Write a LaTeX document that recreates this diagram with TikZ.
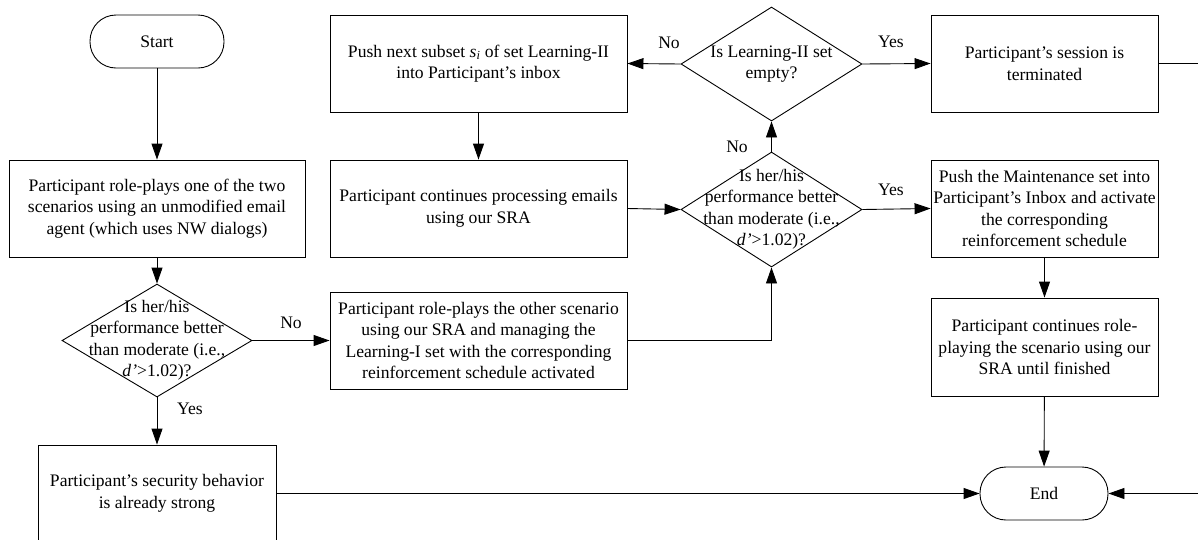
\documentclass[tikz,border=0pt]{standalone}
\usepackage{fontspec}
\setmainfont{Liberation Serif}
\usetikzlibrary{arrows.meta,shapes.geometric}
\begin{document}
\begin{tikzpicture}[x=1pt,y=-1pt,
  every node/.style={font=\fontsize{17.6}{21.5}\selectfont},
  box/.style={draw, line width=0.9pt, minimum height=97pt, align=center, inner sep=0pt},
  term/.style={draw, line width=0.9pt, rounded corners=26pt, minimum height=53pt, inner sep=0pt},
  dia/.style={draw, line width=0.9pt, diamond, inner sep=0pt},
  dtext/.style={align=center, inner sep=0pt},
  lbl/.style={inner sep=0pt},
  conn/.style={line width=0.9pt, -{Triangle[length=16pt,width=11pt]}},
  plain/.style={line width=0.9pt}]
\clip (0,0) rectangle (1198,539);
\fill[white] (0,0) rectangle (1198,539);

% left column
\node[term, minimum width=134pt] (start) at (157,41.5) {Start};
\node[box, minimum width=296pt] (b1) at (157,208.5) {Participant role-plays one of the two\\scenarios using an unmodified email\\agent (which uses NW dialogs)};
\node[dia, minimum width=190pt, minimum height=113pt] (d1) at (157,340.5) {};
\node[dtext] (d1t) at (157,340.5) {Is her/his\\performance better\\than moderate (i.e.,\\\textit{d’}>1.02)?};
\node[box, minimum width=238pt] (sec) at (157,493.5) {Participant’s security behavior\\is already strong};

% middle column
\node[box, minimum width=297pt] (push) at (478.5,63.5) {Push next subset \textit{s}\textsubscript{\textit{i}} of set Learning-II\\into Participant’s inbox};
\node[box, minimum width=297pt] (cont) at (478.5,208.5) {Participant continues processing emails\\using our SRA};
\node[box, minimum width=297pt] (rp) at (478.5,340.5) {Participant role-plays the other scenario\\using our SRA and managing the\\Learning-I set with the corresponding\\reinforcement schedule activated};

% diamonds right
\node[dia, minimum width=181pt, minimum height=114pt] (d3) at (771.5,64) {};
\node[dtext] (d3t) at (771.5,64) {Is Learning-II set\\empty?};
\node[dia, minimum width=181pt, minimum height=115pt] (d2) at (771.5,209.5) {};
\node[dtext] (d2t) at (771.5,209.5) {Is her/his\\performance better\\than moderate (i.e.,\\\textit{d’}>1.02)?};

% right column
\node[box, minimum width=227pt] (sess) at (1044.5,63.5) {Participant’s session is\\terminated};
\node[box, minimum width=227pt] (maint) at (1044.5,208.5) {Push the Maintenance set into\\Participant’s Inbox and activate\\the corresponding\\reinforcement schedule};
\node[box, minimum width=227pt, minimum height=98pt] (crp) at (1044.5,347) {Participant continues role-\\playing the scenario using our\\SRA until finished};
\node[term, minimum width=128pt] (end) at (1044,493.5) {End};

\coordinate (edgeTop) at (1198,63.5);
\coordinate (edgeBot) at (1198,493.5);

% connectors
\draw[conn] (start) -- (b1);
\draw[conn] (b1) -- (d1);
\draw[conn] (d1.east) -- node[lbl, above=11pt] {No} (rp.west);
\draw[conn] (d1.south) -- (sec.north);
\node[lbl] (yes1) at (190,409) {Yes};
\draw[conn] (sec.east) -- (end.west);
\draw[conn] (push) -- (cont);
\draw[conn] (cont.east) -- (d2.west);
\draw[conn] (rp.east) -| (d2.south);
\draw[conn] (d2.north) -- (d3.south);
\node[lbl] (no2) at (737,147) {No};
\draw[conn] (d3.west) -- (push.east);
\node[lbl] (no3) at (669,43) {No};
\draw[conn] (d3.east) -- (sess.west);
\node[lbl] (yes3) at (891,42) {Yes};
\draw[conn] (d2.east) -- (maint.west);
\node[lbl] (yes2) at (891,190) {Yes};
\draw[conn] (maint) -- (crp);
\draw[conn] (crp) -- (end);
\draw[plain] (sess.east) -- (edgeTop);
\draw[conn] (edgeBot) -- (end.east);
\end{tikzpicture}
\end{document}
